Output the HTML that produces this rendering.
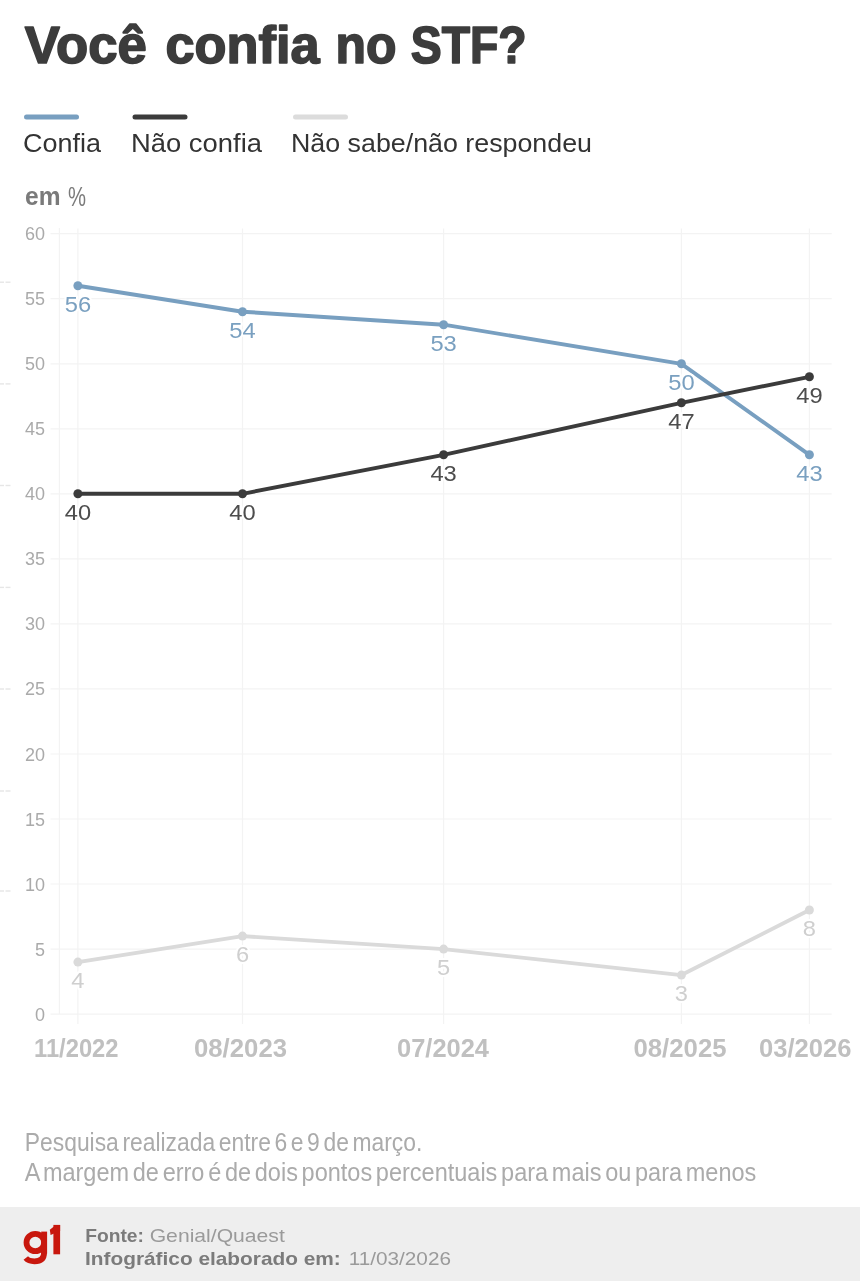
<!DOCTYPE html>
<html><head><meta charset="utf-8"><style>
html,body{margin:0;padding:0;background:#fff;width:860px;height:1281px;overflow:hidden}
svg{display:block;will-change:transform}
</style></head><body>
<svg width="860" height="1281" viewBox="0 0 860 1281">
<rect width="860" height="1281" fill="#ffffff"/>
<g font-family="Liberation Sans, sans-serif" font-size="51" font-weight="bold" fill="#3c3c3c" stroke="#3c3c3c" stroke-width="1.6" stroke-linejoin="round"><text x="24.8" y="62.6" textLength="122" lengthAdjust="spacingAndGlyphs">Você</text><text x="165.5" y="62.6" textLength="154" lengthAdjust="spacingAndGlyphs">confia</text><text x="335.5" y="62.6" textLength="61" lengthAdjust="spacingAndGlyphs">no</text><text x="410.7" y="62.6" textLength="116" lengthAdjust="spacingAndGlyphs">STF?</text></g>
<g stroke-width="5" stroke-linecap="round">
<line x1="26.5" y1="117" x2="76.5" y2="117" stroke="#789fc0"/>
<line x1="135" y1="117" x2="185" y2="117" stroke="#3b3b3b"/>
<line x1="295.5" y1="117" x2="345.5" y2="117" stroke="#dcdcdc"/>
</g>
<g font-family="Liberation Sans, sans-serif" font-size="26" fill="#333333">
<text x="23" y="151.6" textLength="78" lengthAdjust="spacingAndGlyphs">Confia</text>
<text x="131" y="151.6" textLength="131" lengthAdjust="spacingAndGlyphs">Não confia</text>
<text x="291" y="151.6" textLength="301" lengthAdjust="spacingAndGlyphs">Não sabe/não respondeu</text>
</g>
<text x="25" y="205.3" font-family="Liberation Sans, sans-serif" font-size="26" font-weight="bold" fill="#7a7a7a" textLength="35.5" lengthAdjust="spacingAndGlyphs">em</text><text x="68" y="205.6" font-family="Liberation Sans, sans-serif" font-size="27" fill="#7a7a7a" textLength="18" lengthAdjust="spacingAndGlyphs">%</text>
<g stroke="#f3f3f3" stroke-width="1.2"><line x1="50.5" y1="1014.1" x2="831.7" y2="1014.1"/><line x1="50.5" y1="949.1" x2="831.7" y2="949.1"/><line x1="50.5" y1="884.0" x2="831.7" y2="884.0"/><line x1="50.5" y1="819.0" x2="831.7" y2="819.0"/><line x1="50.5" y1="754.0" x2="831.7" y2="754.0"/><line x1="50.5" y1="688.9" x2="831.7" y2="688.9"/><line x1="50.5" y1="623.9" x2="831.7" y2="623.9"/><line x1="50.5" y1="558.9" x2="831.7" y2="558.9"/><line x1="50.5" y1="493.8" x2="831.7" y2="493.8"/><line x1="50.5" y1="428.8" x2="831.7" y2="428.8"/><line x1="50.5" y1="363.8" x2="831.7" y2="363.8"/><line x1="50.5" y1="298.7" x2="831.7" y2="298.7"/><line x1="50.5" y1="233.7" x2="831.7" y2="233.7"/><line x1="59.4" y1="228" x2="59.4" y2="1014.1"/><line x1="77.9" y1="228.5" x2="77.9" y2="1024"/><line x1="242.5" y1="228.5" x2="242.5" y2="1024"/><line x1="443.6" y1="228.5" x2="443.6" y2="1024"/><line x1="681.4" y1="228.5" x2="681.4" y2="1024"/><line x1="809.4" y1="228.5" x2="809.4" y2="1024"/></g>
<g font-family="Liberation Sans, sans-serif" font-size="18" fill="#aaaaaa" text-anchor="end"><text x="45" y="1020.6">0</text><text x="45" y="955.6">5</text><text x="45" y="890.5">10</text><text x="45" y="825.5">15</text><text x="45" y="760.5">20</text><text x="45" y="695.4">25</text><text x="45" y="630.4">30</text><text x="45" y="565.4">35</text><text x="45" y="500.3">40</text><text x="45" y="435.3">45</text><text x="45" y="370.2">50</text><text x="45" y="305.2">55</text><text x="45" y="240.2">60</text></g>
<polyline points="77.9,962.1 242.5,936.1 443.6,949.1 681.4,975.1 809.4,910.0" fill="none" stroke="#dadada" stroke-width="3.9" stroke-linejoin="round" stroke-linecap="round"/>
<circle cx="77.9" cy="962.1" r="4.5" fill="#dadada"/>
<circle cx="242.5" cy="936.1" r="4.5" fill="#dadada"/>
<circle cx="443.6" cy="949.1" r="4.5" fill="#dadada"/>
<circle cx="681.4" cy="975.1" r="4.5" fill="#dadada"/>
<circle cx="809.4" cy="910.0" r="4.5" fill="#dadada"/>
<polyline points="77.9,285.7 242.5,311.7 443.6,324.7 681.4,363.8 809.4,454.8" fill="none" stroke="#789fc0" stroke-width="3.9" stroke-linejoin="round" stroke-linecap="round"/>
<circle cx="77.9" cy="285.7" r="4.5" fill="#789fc0"/>
<circle cx="242.5" cy="311.7" r="4.5" fill="#789fc0"/>
<circle cx="443.6" cy="324.7" r="4.5" fill="#789fc0"/>
<circle cx="681.4" cy="363.8" r="4.5" fill="#789fc0"/>
<circle cx="809.4" cy="454.8" r="4.5" fill="#789fc0"/>
<polyline points="77.9,493.8 242.5,493.8 443.6,454.8 681.4,402.8 809.4,376.8" fill="none" stroke="#3b3b3b" stroke-width="3.9" stroke-linejoin="round" stroke-linecap="round"/>
<circle cx="77.9" cy="493.8" r="4.5" fill="#3b3b3b"/>
<circle cx="242.5" cy="493.8" r="4.5" fill="#3b3b3b"/>
<circle cx="443.6" cy="454.8" r="4.5" fill="#3b3b3b"/>
<circle cx="681.4" cy="402.8" r="4.5" fill="#3b3b3b"/>
<circle cx="809.4" cy="376.8" r="4.5" fill="#3b3b3b"/>
<g font-family="Liberation Sans, sans-serif" font-size="22" fill="#cfcfcf" text-anchor="middle" stroke="#fff" stroke-width="4" stroke-linejoin="round" paint-order="stroke"><text x="77.9" y="988.1" textLength="13.2" lengthAdjust="spacingAndGlyphs">4</text><text x="242.5" y="962.1" textLength="13.2" lengthAdjust="spacingAndGlyphs">6</text><text x="443.6" y="975.1" textLength="13.2" lengthAdjust="spacingAndGlyphs">5</text><text x="681.4" y="1001.1" textLength="13.2" lengthAdjust="spacingAndGlyphs">3</text><text x="809.4" y="936.0" textLength="13.2" lengthAdjust="spacingAndGlyphs">8</text></g>
<g font-family="Liberation Sans, sans-serif" font-size="22" fill="#7aa0c0" text-anchor="middle" stroke="#fff" stroke-width="4" stroke-linejoin="round" paint-order="stroke"><text x="77.9" y="311.7" textLength="26.4" lengthAdjust="spacingAndGlyphs">56</text><text x="242.5" y="337.7" textLength="26.4" lengthAdjust="spacingAndGlyphs">54</text><text x="443.6" y="350.7" textLength="26.4" lengthAdjust="spacingAndGlyphs">53</text><text x="681.4" y="389.8" textLength="26.4" lengthAdjust="spacingAndGlyphs">50</text><text x="809.4" y="480.8" textLength="26.4" lengthAdjust="spacingAndGlyphs">43</text></g>
<g font-family="Liberation Sans, sans-serif" font-size="22" fill="#4d4d4d" text-anchor="middle" stroke="#fff" stroke-width="4" stroke-linejoin="round" paint-order="stroke"><text x="77.9" y="519.8" textLength="26.4" lengthAdjust="spacingAndGlyphs">40</text><text x="242.5" y="519.8" textLength="26.4" lengthAdjust="spacingAndGlyphs">40</text><text x="443.6" y="480.8" textLength="26.4" lengthAdjust="spacingAndGlyphs">43</text><text x="681.4" y="428.8" textLength="26.4" lengthAdjust="spacingAndGlyphs">47</text><text x="809.4" y="402.8" textLength="26.4" lengthAdjust="spacingAndGlyphs">49</text></g>
<g font-family="Liberation Sans, sans-serif" font-size="26" font-weight="bold" fill="#c0c0c0"><text x="34" y="1057" textLength="84.5" lengthAdjust="spacingAndGlyphs">11/2022</text><text x="194" y="1057" textLength="93.0" lengthAdjust="spacingAndGlyphs">08/2023</text><text x="397" y="1057" textLength="92.0" lengthAdjust="spacingAndGlyphs">07/2024</text><text x="633.5" y="1057" textLength="93.0" lengthAdjust="spacingAndGlyphs">08/2025</text><text x="759" y="1057" textLength="92.5" lengthAdjust="spacingAndGlyphs">03/2026</text></g>
<g stroke="#e6e6e6" stroke-width="1.4"><line x1="0" y1="282.2" x2="4" y2="282.2"/><line x1="5.5" y1="282.2" x2="10.5" y2="282.2"/><line x1="0" y1="383.9" x2="4" y2="383.9"/><line x1="5.5" y1="383.9" x2="10.5" y2="383.9"/><line x1="0" y1="485.5" x2="4" y2="485.5"/><line x1="5.5" y1="485.5" x2="10.5" y2="485.5"/><line x1="0" y1="587.4" x2="4" y2="587.4"/><line x1="5.5" y1="587.4" x2="10.5" y2="587.4"/><line x1="0" y1="689" x2="4" y2="689"/><line x1="5.5" y1="689" x2="10.5" y2="689"/><line x1="0" y1="791" x2="4" y2="791"/><line x1="5.5" y1="791" x2="10.5" y2="791"/><line x1="0" y1="891" x2="4" y2="891"/><line x1="5.5" y1="891" x2="10.5" y2="891"/></g>
<g font-family="Liberation Sans, sans-serif" font-size="25" fill="#ababab" style="word-spacing:-3px">
<text x="24.8" y="1151.3" textLength="397.5" lengthAdjust="spacingAndGlyphs">Pesquisa realizada entre 6 e 9 de março.</text>
<text x="24.8" y="1181.4" textLength="731.5" lengthAdjust="spacingAndGlyphs">A margem de erro é de dois pontos percentuais para mais ou para menos</text>
</g>
<rect x="0" y="1207" width="860" height="74" fill="#eeeeee"/>
<g fill="#c8170d">
<ellipse cx="35.3" cy="1242.5" rx="8.8" ry="8.6" fill="none" stroke="#c8170d" stroke-width="5.8"/>
<rect x="41.2" y="1231.6" width="5.9" height="22"/>
<path d="M44.1,1250 L44.1,1252.5 Q44.1,1261.3 34.5,1261.3 Q28.5,1261.3 25.8,1258" fill="none" stroke="#c8170d" stroke-width="5.8"/>
<rect x="53.4" y="1224.9" width="6.7" height="29.4"/>
<polygon points="60.1,1224.9 60.1,1231 50.6,1234.9 49.8,1229.8 55.5,1225.2"/>
</g>
<g font-family="Liberation Sans, sans-serif" font-size="19">
<text x="85.2" y="1241.5" font-weight="bold" fill="#7b7b7b" textLength="58.8" lengthAdjust="spacingAndGlyphs">Fonte:</text>
<text x="149.7" y="1241.5" fill="#9a9a9a" textLength="135.1" lengthAdjust="spacingAndGlyphs">Genial/Quaest</text>
<text x="85" y="1264.8" font-weight="bold" fill="#7b7b7b" textLength="255.8" lengthAdjust="spacingAndGlyphs">Infográfico elaborado em:</text>
<text x="348.7" y="1264.8" fill="#9a9a9a" textLength="102.3" lengthAdjust="spacingAndGlyphs">11/03/2026</text>
</g>
</svg>
</body></html>
